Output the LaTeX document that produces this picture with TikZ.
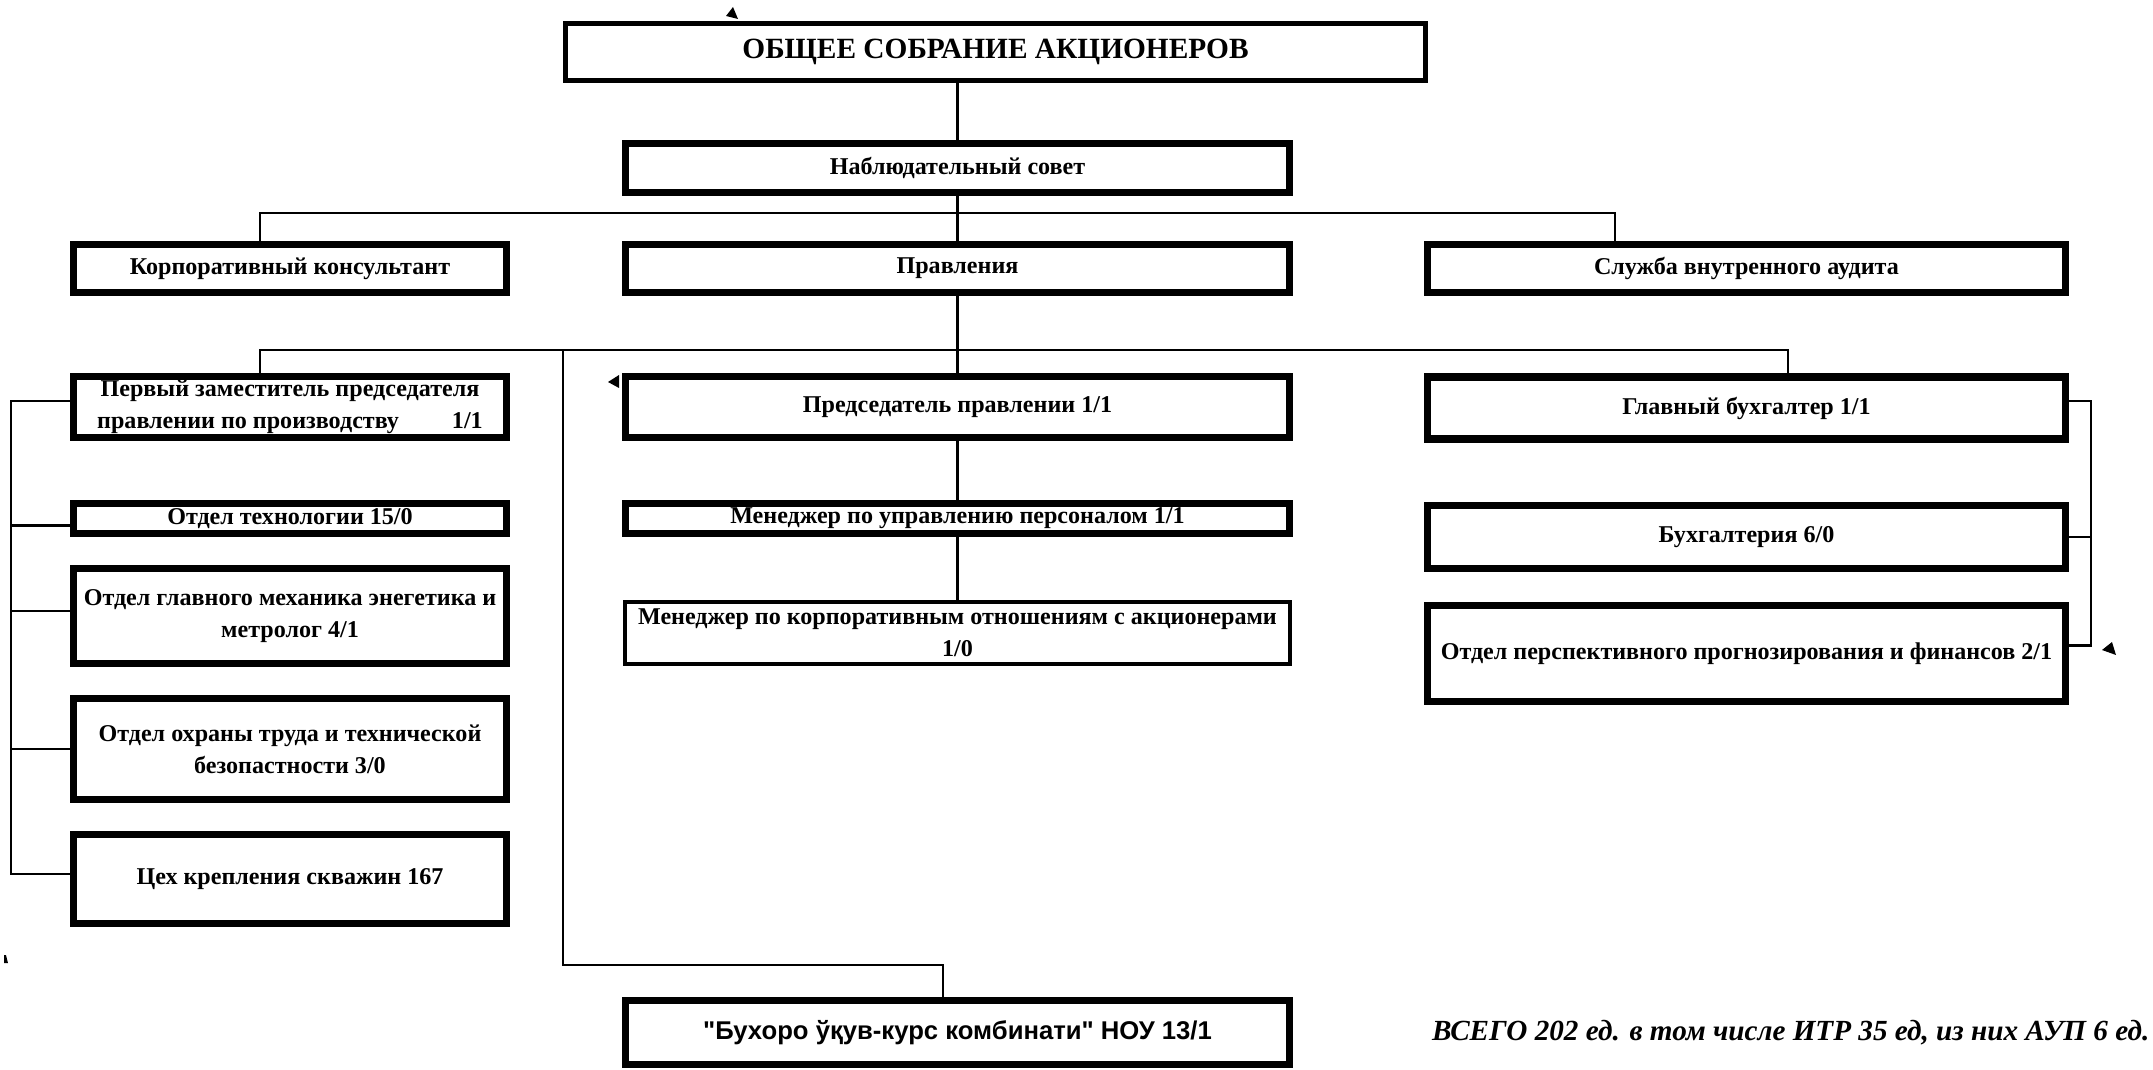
\documentclass[tikz,border=0pt]{standalone}
\usepackage{fontspec}
\setmainfont{Liberation Serif}
\newfontfamily\sansfont{Liberation Sans}
\usepackage{tikz}

\begin{document}
\begin{tikzpicture}[x=0.01cm, y=-0.01cm,
  box/.style={draw=black, line width=2.1pt, inner sep=0pt, align=center, font=\bfseries\fontsize{6.85}{9.1}\selectfont},
  thinbox/.style={box, line width=1.2pt},
  link/.style={draw=black, line width=0.6pt}]
  \useasboundingbox (0,0) rectangle (2153,1070);

  \node[box, line width=1.4pt, minimum width=8.60cm, minimum height=0.57cm, font=\bfseries\fontsize{8.35}{10}\selectfont] (gsm) at (995.5, 52) {ОБЩЕЕ СОБРАНИЕ АКЦИОНЕРОВ};
  \node[box, minimum width=6.64cm, minimum height=0.49cm] (nab) at (957.5, 168) {Наблюдательный совет};
  \node[box, minimum width=4.33cm, minimum height=0.48cm] (korp) at (290, 268.5) {Корпоративный консультант};
  \node[box, minimum width=6.64cm, minimum height=0.48cm] (pravl) at (957.5, 268.5) {Правления};
  \node[box, minimum width=6.38cm, minimum height=0.48cm] (audit) at (1746.5, 268.5) {Служба внутренного аудита};

  \node[box, minimum width=4.33cm, minimum height=0.61cm] (zam) at (290, 407) {Первый заместитель председателя\\правлении по производству\hspace{2.2em}1/1};
  \node[box, minimum width=4.33cm, minimum height=0.30cm] (tech) at (290, 518.5) {Отдел технологии 15/0};
  \node[box, minimum width=4.33cm, minimum height=0.95cm] (meh) at (290, 616) {Отдел главного механика энегетика и\\метролог 4/1};
  \node[box, minimum width=4.33cm, minimum height=1.01cm] (ohr) at (290, 749) {Отдел охраны труда и технической\\безопастности 3/0};
  \node[box, minimum width=4.33cm, minimum height=0.89cm] (tseh) at (290, 879) {Цех крепления скважин 167};

  \node[box, minimum width=6.64cm, minimum height=0.61cm] (pred) at (957.5, 407) {Председатель правлении 1/1};
  \node[box, minimum width=6.64cm, minimum height=0.30cm] (mgrpers) at (957.5, 518.5) {Менеджер по управлению персоналом 1/1};
  \node[thinbox, minimum width=6.65cm, minimum height=0.62cm] (mgrkorp) at (957.5, 633) {Менеджер по корпоративным отношениям с акционерами\\1/0};

  \node[box, minimum width=6.38cm, minimum height=0.62cm] (glbuh) at (1746.5, 408) {Главный бухгалтер 1/1};
  \node[box, minimum width=6.38cm, minimum height=0.63cm] (buh) at (1746.5, 537) {Бухгалтерия 6/0};
  \node[box, minimum width=6.38cm, minimum height=0.96cm] (fin) at (1746.5, 653.5) {Отдел перспективного прогнозирования и финансов 2/1};

  \node[box, minimum width=6.64cm, minimum height=0.64cm, font=\sansfont\bfseries\fontsize{7.3}{9}\selectfont] (bux) at (957.5, 1032.5) {"Бухоро ўқув-курс комбинати" НОУ 13/1};
  \node[anchor=east, inner sep=0pt, font=\bfseries\itshape\fontsize{8.3}{10}\selectfont] (total) at (2150, 1033) {ВСЕГО 202 ед. в том числе ИТР 35 ед, из них АУП 6 ед.};

  \coordinate (bus1) at (957.5, 213);
  \coordinate (bus2) at (957.5, 350);
  \coordinate (lbus) at (11, 0);
  \coordinate (rbus) at (2091, 0);
  \coordinate (bukhturn) at (563, 965);

  \draw[link] (nab.north) -- (nab.north |- gsm.south);
  \draw[link] (nab.south) -- (pravl.north);
  \draw[link] ([xshift=-0.3cm]korp.north) |- (bus1) -| ([xshift=-1.315cm]audit.north);
  \draw[link] (pravl.south) -- (pred.north);
  \draw[link] ([xshift=-0.3cm]zam.north) |- (bus2) -| ([xshift=0.415cm]glbuh.north);
  \draw[link] (bukhturn |- bus2) -- (bukhturn) -| ([xshift=-0.145cm]bux.north);
  \draw[link] (pred.south) -- (mgrpers.north);
  \draw[link] (mgrpers.south) -- (mgrkorp.north);

  \draw[link] ([yshift=0.06cm]zam.west) -| ([yshift=0.05cm]lbus |- tseh.west) -- ([yshift=0.05cm]tseh.west);
  \draw[link] ([yshift=-0.07cm]tech.west) -- ([yshift=-0.07cm]lbus |- tech.west);
  \draw[link] ([yshift=0.05cm]meh.west) -- ([yshift=0.05cm]lbus |- meh.west);
  \draw[link] (ohr.west) -- (lbus |- ohr.west);
  \draw[link] ([yshift=0.07cm]glbuh.east) -| ([yshift=0.08cm]rbus |- fin.east) -- ([yshift=0.08cm]fin.east);
  \draw[link] (buh.east) -- (rbus |- buh.east);

  \fill (608, 382) -- (619, 375) -- (619, 388) -- cycle;
  \fill (726, 16) -- (733, 7) -- (738, 19) -- cycle;
  \fill (2102, 650) -- (2112, 642) -- (2116, 655) -- cycle;
  \fill (4, 955) -- (6, 955) -- (8, 963) -- (4, 963) -- cycle;
\end{tikzpicture}
\end{document}
